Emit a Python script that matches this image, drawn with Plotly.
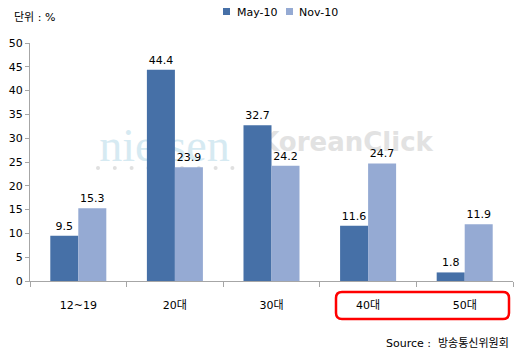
import plotly.graph_objects as go

categories = ["12~19", "20대", "30대", "40대", "50대"]
may10 = [9.5, 44.4, 32.7, 11.6, 1.8]
nov10 = [15.3, 23.9, 24.2, 24.7, 11.9]
series_names = ["May-10", "Nov-10"]
colors = ["#4670A7", "#95AAD3"]
y_ticks = list(range(0, 51, 5))

W, H = 523, 360
ML, MR, MT, MB = 30, 10, 43, 79
PW, PH = W - ML - MR, H - MT - MB

def px(x):
    return (x - ML) / PW

def py(y):
    return (H - MB - y) / PH

FONT = "Tahoma, DejaVu Sans, Noto Sans CJK KR"

fig = go.Figure()
for name, vals, col in zip(series_names, [may10, nov10], colors):
    fig.add_trace(go.Bar(
        x=categories, y=vals, name=name, marker=dict(color=col, line=dict(width=0)),
        text=[f"{v:.1f}" for v in vals], textposition="outside",
        textfont=dict(family=FONT, size=11, color="#000000"),
        cliponaxis=False, showlegend=False,
    ))

shapes = []
annotations = []

# watermark (below traces)
shapes.append(dict(type="rect", xref="paper", yref="paper", layer="below",
                   x0=px(93), x1=px(236), y0=py(162), y1=py(118),
                   line=dict(width=0), fillcolor="rgba(0,0,0,0)",
                   label=dict(text="nielsen", font=dict(family="Liberation Serif", size=46, color="#D6EAF2"),
                              textposition="middle center")))
shapes.append(dict(type="rect", xref="paper", yref="paper", layer="below",
                   x0=px(245), x1=px(447), y0=py(156), y1=py(124),
                   line=dict(width=0), fillcolor="rgba(0,0,0,0)",
                   label=dict(text="KoreanClick", font=dict(family="DejaVu Sans", size=26, color="#E2E2E2", weight="bold"),
                              textposition="middle center")))
for i in range(9):
    cx = 98 + i * 16.8
    shapes.append(dict(type="circle", xref="paper", yref="paper", layer="below",
                       x0=px(cx - 2), x1=px(cx + 2), y0=py(170), y1=py(166),
                       line=dict(width=0), fillcolor="#E0E0E0"))

# legend
leg = [(223, 235, series_names[0], colors[0]), (286, 297, series_names[1], colors[1])]
for sx, tx, name, col in leg:
    shapes.append(dict(type="rect", xref="paper", yref="paper",
                       x0=px(sx), x1=px(sx + 7), y0=py(15), y1=py(8),
                       line=dict(width=0), fillcolor=col))
    annotations.append(dict(xref="paper", yref="paper", x=px(tx), y=py(12), xanchor="left", yanchor="middle",
                            text=name, showarrow=False, font=dict(family=FONT, size=11, color="#000000")))

# red rounded rectangle around 40대/50대
x0, x1, y0, y1, r = 336, 509, 292, 319, 6
path = (f"M {px(x0 + r)},{py(y0)} L {px(x1 - r)},{py(y0)} Q {px(x1)},{py(y0)} {px(x1)},{py(y0 + r)} "
        f"L {px(x1)},{py(y1 - r)} Q {px(x1)},{py(y1)} {px(x1 - r)},{py(y1)} "
        f"L {px(x0 + r)},{py(y1)} Q {px(x0)},{py(y1)} {px(x0)},{py(y1 - r)} "
        f"L {px(x0)},{py(y0 + r)} Q {px(x0)},{py(y0)} {px(x0 + r)},{py(y0)} Z")
shapes.append(dict(type="path", xref="paper", yref="paper", path=path,
                   line=dict(color="#FF0000", width=2.5), fillcolor="rgba(0,0,0,0)"))

annotations.append(dict(xref="paper", yref="paper", x=px(12), y=py(18), xanchor="left", yanchor="middle",
                        text="단위 : %", showarrow=False, font=dict(family=FONT, size=11, color="#000000")))
annotations.append(dict(xref="paper", yref="paper", x=px(511), y=py(343), xanchor="right", yanchor="middle",
                        text="Source :  방송통신위원회", showarrow=False, font=dict(family=FONT, size=11, color="#000000")))

fig.update_layout(
    width=W, height=H, margin=dict(l=ML, r=MR, t=MT, b=MB),
    paper_bgcolor="white", plot_bgcolor="white",
    barmode="group", bargap=0.42, bargroupgap=0,
    font=dict(family=FONT, size=11, color="#000000"),
    shapes=shapes, annotations=annotations, showlegend=False,
    xaxis=dict(type="category", showgrid=False, showline=True, linecolor="#A6A6A6", linewidth=1,
               ticks="outside", ticklen=5, tickcolor="#A6A6A6", tickson="boundaries",
               ticklabelstandoff=14, tickfont=dict(family=FONT, size=11, color="#000000")),
    yaxis=dict(range=[0, 50], tickvals=y_ticks, showgrid=False, zeroline=False, showline=True,
               linecolor="#A6A6A6", linewidth=1, ticks="outside", ticklen=4, tickcolor="#A6A6A6",
               tickfont=dict(family=FONT, size=11, color="#000000")),
)

fig.write_html("out.html")
